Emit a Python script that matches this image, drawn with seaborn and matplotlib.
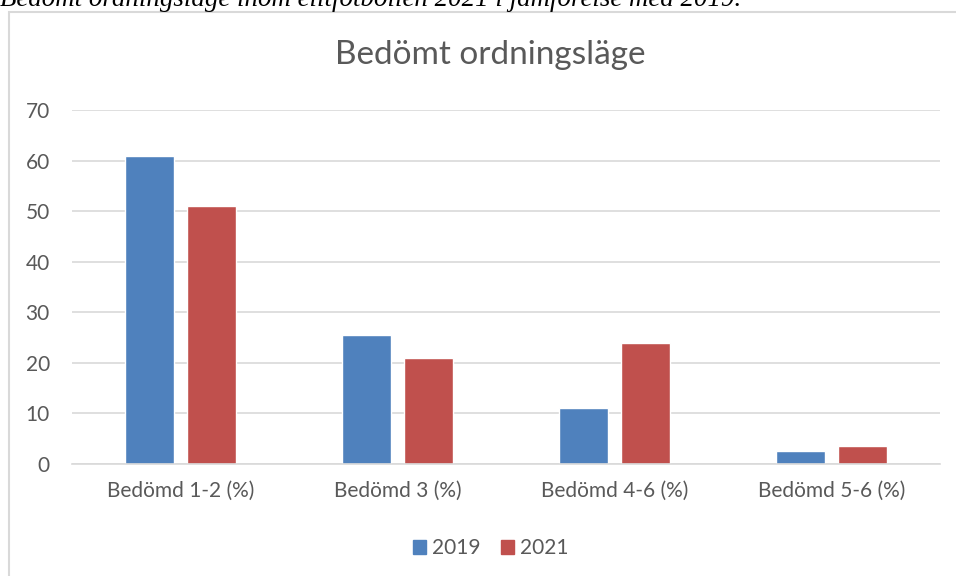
import numpy as np
import pandas as pd
import seaborn as sns
from matplotlib import pyplot as plt
from matplotlib.patches import Rectangle

categories = ['Bedömd 1-2 (%)', 'Bedömd 3 (%)', 'Bedömd 4-6 (%)', 'Bedömd 5-6 (%)']
values_2019 = [61, 25.5, 11, 2.5]
values_2021 = [51, 21, 24, 3.5]
years = ['2019', '2021']
yticks = [0, 10, 20, 30, 40, 50, 60, 70]

df = pd.DataFrame({
    'kategori': categories * 2,
    'år': [years[0]] * 4 + [years[1]] * 4,
    'värde': values_2019 + values_2021,
})

sns.set_style('white')
plt.rcParams['font.family'] = ['Lato', 'DejaVu Sans']

fig = plt.figure(figsize=(9.56, 5.76), dpi=100)
ax = fig.add_axes([0.0753, 0.1944, 0.9077, 0.6146])

sns.barplot(data=df, x='kategori', y='värde', hue='år', ax=ax,
            palette=['#4F81BD', '#C0504D'], width=0.571, gap=0.21,
            saturation=1, legend=False)

ax.set_ylim(0, 70)
ax.set_yticks(yticks)
ax.set_xlim(-0.5, 3.5)
ax.yaxis.grid(True, color='#D9D9D9', linewidth=1.2)
ax.set_axisbelow(True)
for s in ['top', 'right', 'left']:
    ax.spines[s].set_visible(False)
ax.spines['bottom'].set_color('#D9D9D9')
ax.spines['bottom'].set_linewidth(1.2)
ax.tick_params(axis='both', length=0, labelsize=15, colors='#595959')
ax.tick_params(axis='x', pad=12)
ax.tick_params(axis='y', pad=16)
ax.set_xlabel('')
ax.set_ylabel('')

fig.text(0.513, 0.905, 'Bedömt ordningsläge', ha='center', va='center',
         fontsize=24, color='#595959')

handles = [Rectangle((0, 0), 1, 1, color=c) for c in ['#4F81BD', '#C0504D']]
fig.legend(handles, years, loc='center', bbox_to_anchor=(0.513, 0.048), ncol=2,
           frameon=False, fontsize=15, labelcolor='#595959',
           handlelength=0.65, handleheight=0.65, handletextpad=0.25, columnspacing=1.0)

# chart frame
fig.patches.append(Rectangle((9 / 956, -0.05), 1.0, 1 - 12 / 576 + 0.05,
                             transform=fig.transFigure, fill=False,
                             edgecolor='#D9D9D9', linewidth=1.5))

fig.text(0.0, 1 - 6 / 576, 'Bedömt ordningsläge inom elitfotbollen 2021 i jämförelse med 2019.',
         ha='left', va='baseline', fontsize=19.4, style='italic',
         family=['Liberation Serif', 'DejaVu Serif'], color='black')

fig.savefig('out.png', dpi=100)
